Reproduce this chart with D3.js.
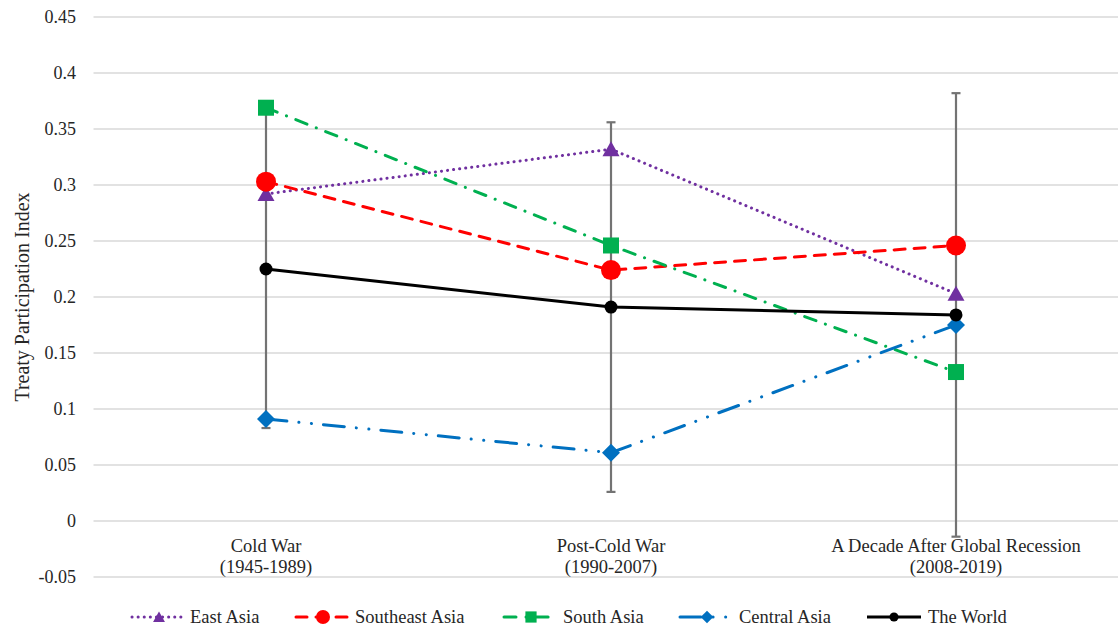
<!DOCTYPE html>
<html>
<head>
<meta charset="utf-8">
<script src="https://cdn.jsdelivr.net/npm/d3@7"></script>
<style>
  body { margin: 0; background: #fff; }
  text { font-family: "Liberation Serif", serif; fill: #262626; }
</style>
</head>
<body>
<div id="chart"></div>
<script>
// data
const periods = [["Cold War", "(1945-1989)"], ["Post-Cold War", "(1990-2007)"], ["A Decade After Global Recession", "(2008-2019)"]];
const yTicks = [-0.05, 0, 0.05, 0.1, 0.15, 0.2, 0.25, 0.3, 0.35, 0.4, 0.45];
const eastAsia = [0.292, 0.332, 0.203];
const southeastAsia = [0.303, 0.224, 0.246];
const southAsia = [0.369, 0.246, 0.133];
const centralAsia = [0.091, 0.061, 0.175];
const world = [0.225, 0.191, 0.184];
const worldErr = [0.142, 0.165, 0.198];

const series = [
  {name: "East Asia", values: eastAsia, color: "#7030A0", dash: "0.1,6", marker: "triangle"},
  {name: "Southeast Asia", values: southeastAsia, color: "#FF0000", dash: "11,9", marker: "bigcircle"},
  {name: "South Asia", values: southAsia, color: "#00B050", dash: "12,10,0.1,10", marker: "square"},
  {name: "Central Asia", values: centralAsia, color: "#0070C0", dash: "21,12,0.1,12.5,0.1,12", marker: "diamond"},
  {name: "The World", values: world, color: "#000000", dash: null, marker: "circle"}
];

const width = 1118, height = 627;
const svg = d3.select("#chart").append("svg")
  .attr("width", width).attr("height", height);

const plotLeft = 93.5, plotRight = 1128.5;
const x = d3.scalePoint().domain(periods.map((d, i) => i)).range([plotLeft, plotRight]).padding(0.5);
const y = d3.scaleLinear().domain([-0.05, 0.45]).range([577, 17]);

// gridlines
svg.append("g").selectAll("line").data(yTicks).join("line")
  .attr("x1", plotLeft).attr("x2", width)
  .attr("y1", d => y(d)).attr("y2", d => y(d))
  .attr("stroke", "#d9d9d9").attr("stroke-width", 1.3);

// y tick labels
svg.append("g").selectAll("text").data(yTicks).join("text")
  .attr("x", 76).attr("y", d => y(d))
  .attr("text-anchor", "end").attr("dominant-baseline", "central")
  .style("font-size", "18px")
  .text(d => String(+d.toFixed(2)));

// y axis title
svg.append("text")
  .attr("transform", `translate(22,${(y(0.45) + y(-0.05)) / 2}) rotate(-90)`)
  .attr("text-anchor", "middle").attr("dominant-baseline", "central")
  .style("font-size", "20px")
  .text("Treaty Participation Index");

// category labels
const cat = svg.append("g").selectAll("text").data(periods).join("text")
  .attr("text-anchor", "middle")
  .style("font-size", "18.5px");
cat.append("tspan").attr("x", (d, i) => x(i)).attr("y", 552).text(d => d[0]);
cat.append("tspan").attr("x", (d, i) => x(i)).attr("y", 573).text(d => d[1]);

// error bars on The World
const eb = svg.append("g").attr("stroke", "#737373").attr("stroke-width", 2.2);
world.forEach((v, i) => {
  const cx = x(i), top = y(v + worldErr[i]), bot = y(v - worldErr[i]);
  eb.append("line").attr("x1", cx).attr("x2", cx).attr("y1", top).attr("y2", bot);
  eb.append("line").attr("x1", cx - 4.5).attr("x2", cx + 4.5).attr("y1", top).attr("y2", top);
  eb.append("line").attr("x1", cx - 4.5).attr("x2", cx + 4.5).attr("y1", bot).attr("y2", bot);
});

function drawMarker(g, type, cx, cy, color, k) {
  if (type === "triangle") {
    g.append("path").attr("d", `M${cx},${cy - 8 * k}L${cx + 8.5 * k},${cy + 7 * k}L${cx - 8.5 * k},${cy + 7 * k}Z`).attr("fill", color);
  } else if (type === "bigcircle") {
    g.append("circle").attr("cx", cx).attr("cy", cy).attr("r", 10 * k).attr("fill", color);
  } else if (type === "square") {
    g.append("rect").attr("x", cx - 8 * k).attr("y", cy - 8 * k).attr("width", 16 * k).attr("height", 16 * k).attr("fill", color);
  } else if (type === "diamond") {
    g.append("path").attr("d", `M${cx},${cy - 9 * k}L${cx + 9 * k},${cy}L${cx},${cy + 9 * k}L${cx - 9 * k},${cy}Z`).attr("fill", color);
  } else {
    g.append("circle").attr("cx", cx).attr("cy", cy).attr("r", 6.5 * k).attr("fill", color);
  }
}

const line = d3.line().x((d, i) => x(i)).y(d => y(d));

series.forEach(s => {
  svg.append("path").datum(s.values)
    .attr("d", line)
    .attr("fill", "none")
    .attr("stroke", s.color)
    .attr("stroke-width", 3)
    .attr("stroke-linecap", s.dash ? "round" : "butt")
    .attr("stroke-dasharray", s.dash);
});
series.forEach(s => {
  const g = svg.append("g");
  s.values.forEach((v, i) => drawMarker(g, s.marker, x(i), y(v), s.color, 1));
});

// legend
const legendX = [132, 296, 504, 680, 867];
const legendTextX = [190, 355, 563, 739, 928];
const ly = 617;
series.forEach((s, i) => {
  const g = svg.append("g");
  g.append("line")
    .attr("x1", legendX[i]).attr("x2", legendX[i] + 54)
    .attr("y1", ly).attr("y2", ly)
    .attr("stroke", s.color).attr("stroke-width", 3)
    .attr("stroke-linecap", s.dash ? "round" : "butt")
    .attr("stroke-dasharray", s.dash);
  drawMarker(g, s.marker, legendX[i] + 27, ly, s.color, 0.7);
  g.append("text").attr("x", legendTextX[i]).attr("y", ly)
    .attr("dominant-baseline", "central")
    .style("font-size", "18.5px")
    .text(s.name);
});
</script>
</body>
</html>
